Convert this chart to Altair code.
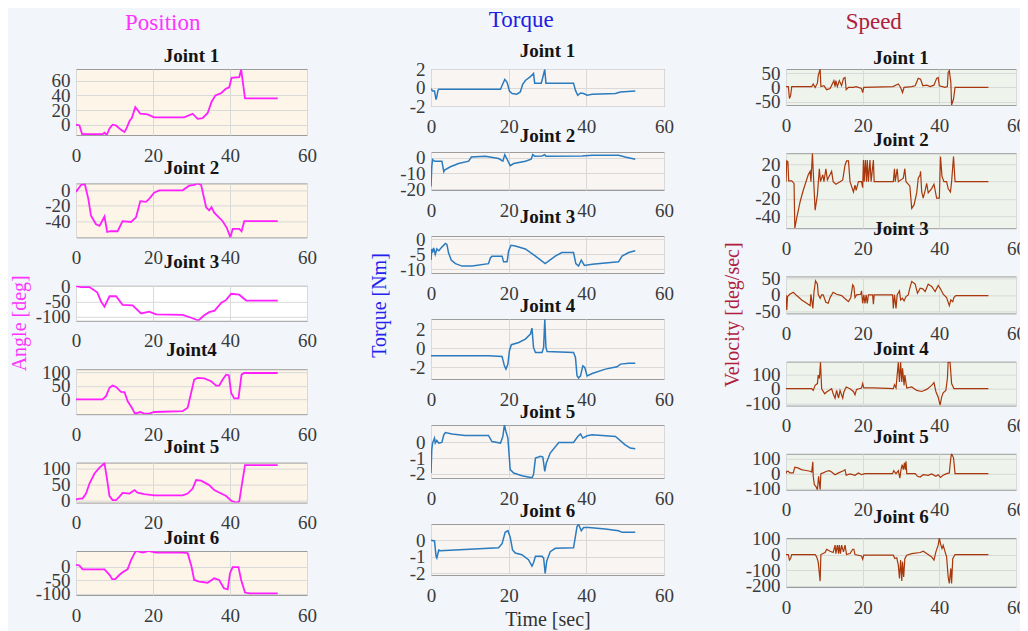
import altair as alt
import pandas as pd

FONT = "Liberation Serif"
X_TICKS = [0, 20, 40, 60]

# ---------------- Position [deg] ----------------
POS1_T = [0,0.9,1.6,6.9,7.4,8,8.7,9.5,10.4,11.7,12.6,13.2,13.9,14.5,15.4,16,16.7,18.6,20.3,28.1,30.3,31.6,32.9,34.2,35.2,36.2,37.7,38.9,39.8,40.4,42.4,42.9,43.9,52.4]
POS1_V = [0,-1,-13,-13,-11,-14,-5,0,-1,-7,-10,-4,5,9,24,20,15,14,10,10,15,8,9,16,31,40,43,49,51,64,65,75,36,36]
POS2_T = [0,1.3,2.3,3.2,3.9,5.2,6.1,7.4,8.1,8.9,10.8,12.1,14.3,15.6,16.7,18.2,19,20.3,21.6,27.7,29.4,30.7,31.6,32.5,33.8,34.6,35.2,35.9,38.1,39.2,40.1,40.7,42.4,43,43.7,52.4]
POS2_V = [-2,7,8,-11,-33,-44,-46,-34,-54,-53,-53,-40,-41,-35,-14,-15,-11,-3,0,0,6,7,9,7,-22,-26,-22,-29,-40,-49,-61,-50,-50,-53,-40,-40]
POS3_T = [0,1.3,3.5,5.5,6.5,7.4,8.7,10.4,12.1,14.7,16.9,19,20.8,27.7,29.9,31.8,33.3,34.6,36,37.7,39,40.3,42.4,44.2,52.4]
POS3_V = [0,-3,-3,-20,-50,-67,-33,-33,-61,-63,-89,-83,-92,-94,-103,-112,-95,-85,-80,-55,-45,-25,-28,-47,-47]
POS4_T = [0,6.9,7.8,8.7,9.5,10.4,11.7,12.6,13.4,14.5,15.3,16.7,17.7,19,20.3,27.7,29,29.9,30.7,31.6,33.3,35.1,36.4,37.2,38.1,39,39.7,40.3,41.1,42.2,43,43.7,52.4]
POS4_V = [0,0,12,43,51,46,28,27,-6,-30,-52,-46,-52,-52,-46,-43,-30,24,73,79,77,67,51,51,73,91,89,24,4,4,91,97,97]
POS5_T = [0,0.9,1.7,2.6,3.5,4.8,6.1,7.4,8.1,8.7,9.5,10.4,11.3,12.1,13.9,15.2,16,17.7,20.3,27.7,29,30.3,31.2,32.5,34.6,35.9,37.7,39,40.3,41.6,42.4,43,43.9,52.4]
POS5_V = [2,5,5,21,53,85,104,118,64,13,0,0,11,23,21,32,24,19,15,15,21,37,64,62,48,32,21,13,-2,-8,-5,43,112,112]
POS6_T = [0,0.9,1.7,7.4,8.7,9.4,10.2,11.3,12.4,13.4,14.3,15.2,15.6,17.3,19,20.8,27.7,29,30,30.7,32,34.2,35.9,37.2,38.4,39.4,40,40.7,42.2,42.9,43.9,45,52.4]
POS6_V = [6,4,-10,-10,-30,-46,-46,-30,-18,-10,24,49,57,51,57,51,51,49,0,-49,-55,-59,-43,-49,-79,-83,-24,-2,-2,-49,-95,-98,-98]

# ---------------- Torque [Nm] ----------------
TOR1_T = [0,0.4,0.9,1.3,1.5,1.8,2,17.9,18.3,19,19.6,20.2,20.9,22.1,23,23.6,24.3,25.6,26.4,26.7,28.4,28.8,29.3,29.6,36.7,37.2,37.8,38.5,39.3,40.2,41.5,47.5,48.8,52.6]
TOR1_V = [-0.1,-0.36,-0.36,-1.29,-1,-0.29,-0.18,-0.18,0.25,0.9,0.6,-0.36,-0.64,-0.71,-0.46,0.36,0.79,1.21,1.57,0.5,0.5,1.14,2.0,0.5,0.5,-0.29,-0.82,-0.57,-0.64,-0.82,-0.71,-0.64,-0.46,-0.36]
TOR2_T = [0,0.2,0.4,0.9,2.8,3.3,3.5,5,7.1,9.7,10.4,14,17.4,18.5,19,19.6,20.4,21.3,24.3,25.8,26.2,26.7,28.6,29.3,29.6,38.9,41.5,48.3,50,52.6]
TOR2_V = [-18.3,-5.7,-1,-2.1,-2.1,-8.8,-7.8,-5.7,-3.6,-2.1,0.6,1.05,-0.4,-2.1,2.1,-0.84,-5,-3.6,-2.1,-0.84,2.1,1.05,1.3,2.1,1.05,1.3,1.7,1.7,0.63,-0.84]
TOR3_T = [0,0.2,0.4,0.7,1.1,1.5,2,2.8,3.7,4.1,4.5,5.2,6.3,8,10.6,14.8,15.3,15.7,18.3,18.7,19.6,20,20.6,21.7,24.3,26.9,29.4,32,33.7,36.7,37.3,38,38.7,39.5,41.5,48.3,49.2,50.9,52.6]
TOR3_V = [-7,-3.3,-4.5,-3,-5.1,-3.3,-3.9,-2.7,-1.5,-1.8,-4.5,-7,-8.2,-9,-9,-8.2,-6.3,-5.7,-5.7,-7.6,-7.6,-3.9,-2.1,-2.3,-3.3,-5.7,-8.2,-5.7,-4.5,-4.5,-8.2,-9,-7,-8.8,-8.4,-7.6,-5.7,-4.5,-3.9]
TOR4_T = [0,14.8,18.3,18.9,19.3,19.8,20.2,20.7,22.6,24.3,25.6,26,26.4,26.9,28.6,29,29.3,29.6,29.9,36.7,37.2,37.6,38,38.5,39.1,39.6,40.2,41.5,44.9,47.9,48.8,50.9,52.6]
TOR4_V = [-0.78,-0.78,-0.85,-1.83,-2.17,-1.65,-0.26,0.37,0.6,0.96,1.48,2.1,0.09,-0.43,-0.43,0.09,3.0,0.09,-0.33,-0.43,-0.96,-2.87,-3.1,-2.87,-1.83,-2,-2.87,-2.63,-2.17,-1.93,-1.65,-1.55,-1.55]
TOR5_T = [0,0.2,0.4,0.9,1.1,1.5,2,2.8,3.3,3.7,5.4,8.8,14.8,15.7,17.9,18.5,18.9,19.3,19.8,20.4,21.3,23.4,26,26.4,26.9,28.2,28.8,29.3,29.7,30.7,32.9,36.7,37.8,38.5,39.1,40.2,41.5,47.5,50,51.3,52.6]
TOR5_V = [-1.96,-0.47,-0.04,0.28,-0.04,0.13,-0.04,0,0.49,0.64,0.55,0.45,0.45,0.06,-0.04,0.38,1.12,0.7,0.28,-1.74,-1.96,-2.13,-2.27,-2.06,-1,-0.89,-0.94,-1.85,-1.32,-0.68,0,0,0.38,0.55,0.28,0.43,0.49,0.38,-0.15,-0.36,-0.4]
TOR6_T = [0,0.9,1.3,1.5,2,2.4,17.4,18.3,19.1,19.8,20.4,21,21.7,23.4,25.1,26,26.4,26.9,28.6,29,29.4,29.8,30.7,32,36.7,37.1,37.6,38,38.7,39.3,40.6,44.9,48.3,49.2,52.6]
TOR6_V = [0,-0.04,-0.98,-1.08,-0.59,-0.63,-0.45,-0.2,0.49,0.59,0.2,-0.59,-0.78,-0.88,-1.18,-1.57,-1.37,-0.98,-0.98,-1.08,-2.02,-1.27,-0.69,-0.49,-0.45,0.1,0.84,0.98,0.59,0.78,0.78,0.69,0.59,0.49,0.49]

# ---------------- Speed [deg/sec] ----------------
SPD1_T = [0,0.6,0.9,1.2,1.5,6.7,7.1,7.6,8.2,8.4,8.9,9.1,9.9,10.6,11.5,12.5,12.8,13,13.4,13.9,14.5,15,15.4,15.7,16.3,17.6,18.3,19.7,20,20.3,27.9,29.3,29.9,30.4,30.8,32.8,33.7,34.5,35.1,35.7,36.7,37.6,38.6,39.3,39.7,40,41.5,42.1,42.3,42.6,43,43.2,43.7,44.1,52.8]
SPD1_V = [3,3,-39,-29,3,3,12,0,15,41,65,3,6,-8,-4,24,3,24,3,24,6,32,35,-8,0,0,3,-4,-18,0,3,12,0,-18,0,3,6,32,29,6,8,3,8,32,35,6,0,3,53,59,18,-62,-41,0,0]
SPD2_T = [0,0.2,0.5,0.7,1.5,2.1,2.3,2.8,3.7,4.5,5.8,6.3,6.5,6.9,7.1,7.6,8.2,8.7,9,9.6,9.9,10.4,10.8,11.9,12.3,13,14.1,14.8,15.4,15.8,16.3,16.7,17.6,18,18.3,18.9,19.7,20,20.2,20.4,20.7,21,21.2,21.5,21.9,22.2,22.8,23,28,28.3,28.5,29,29.3,30.6,31,31.3,32.3,32.8,33.4,34.1,34.5,35,35.1,35.4,35.8,36.3,36.7,37.1,38,38.6,39.3,40,40.3,40.7,41.2,41.9,42.3,42.9,43.2,43.7,44.1,52.8]
SPD2_V = [0,24,23,1,1,-2,-54,-42,-23,-10,8,12,0,33,12,-33,-15,15,0,8,0,15,2,12,0,-3,0,2,19,24,24,0,-12,-4,-10,0,0,-7,25,0,25,0,25,0,25,0,25,0,0,15,0,15,0,4,15,0,-5,-31,-27,-13,4,8,12,-12,-19,-10,-2,-13,-8,-3,-19,-19,29,6,0,0,-8,-12,0,29,0,0]
SPD3_T = [0,0.2,0.4,1,1.9,2.8,4.1,5.4,6.3,6.5,7,7.3,7.7,8.2,8.4,8.9,9.3,9.7,10.4,11,11.5,12.3,13.2,14.5,15.8,16.3,16.9,17.4,17.7,18,18.4,19.5,19.7,20,20.3,20.6,20.9,21.2,21.5,22.6,22.8,23,27.8,28,28.3,28.7,29,29.6,29.9,30.4,30.8,31.3,31.9,32.3,32.8,33.7,34.3,35,35.7,36.3,37.1,38,38.9,39.7,40.3,41,41.9,42.6,43,43.5,43.8,44.3,52.8]
SPD3_V = [0,-45,-5,2,8,-2,-15,-25,-32,2,-40,8,42,32,2,-10,0,0,-22,-25,-8,8,2,-2,-15,-20,-8,30,25,-8,0,2,12,-25,0,-25,0,-25,0,0,-28,0,0,-40,0,-40,0,12,-15,-10,-18,-5,0,20,40,32,5,20,18,10,32,25,10,28,18,2,-8,-32,-15,-20,-8,-2,-2]
SPD4_T = [0,6.7,7.1,7.6,8.2,8.4,8.7,9,9.3,10.1,10.6,11.9,12.3,12.8,13.2,13.7,14.1,14.8,15.1,15.7,16.7,17.6,18,18.4,19.7,20,20.3,22.8,28,28.3,28.7,29.3,29.6,29.9,30.2,30.4,30.8,31,31.5,32.8,34.1,35.4,36.7,38,38.6,39.1,39.7,40.2,40.6,41,41.7,42.1,42.3,42.8,43.2,43.8,52.8]
SPD4_V = [0,0,-12,23,35,93,70,181,0,-35,-23,0,-35,-65,-12,-65,-12,-65,-23,12,0,-19,-42,-5,5,35,5,5,0,28,5,181,47,181,47,140,23,93,5,12,-12,-19,-5,23,42,-19,-58,-112,-58,-28,-12,70,181,181,35,0,0]
SPD5_T = [0,0.2,0.6,1,1.9,2.3,3.1,4,4.9,6.3,6.7,7,7.1,7.4,7.8,8.2,8.5,8.9,9.1,9.7,10.6,11.3,11.9,12.8,13.7,15,15.4,15.7,16.7,18,18.9,19.7,20.6,27.8,28.1,28.7,29.3,29.7,30,30.3,30.6,30.9,31.1,31.3,31.5,33.7,34.3,35,35.8,37.1,38,39.1,39.7,40.3,41,41.9,42.6,43,43.2,43.7,44.1,52.8]
SPD5_V = [0,16,16,5,5,43,39,27,23,16,11,80,-18,-75,-86,-109,-18,-109,0,5,16,20,11,-7,5,20,27,-11,-2,-11,5,-7,0,0,20,0,20,-30,27,61,27,73,27,84,0,0,-18,-23,-7,-11,-2,-18,-7,-25,-11,0,5,107,134,107,0,0]
SPD6_T = [0,0.6,0.9,1.2,1.5,7.6,8,8.4,8.9,9.1,10.2,10.6,11.5,12.3,12.8,13,13.4,13.7,13.9,14.2,14.5,15,15.4,15.8,16.7,17.4,17.7,18,19.7,20,20.3,22.8,28,28.4,28.9,29.3,29.6,29.9,30.2,30.4,30.7,31,31.5,32.8,35,35.8,36.7,38,38.6,39.1,39.7,40,40.3,40.7,41,41.5,41.9,42.3,42.6,43,43.2,43.5,44.1,52.8]
SPD6_V = [0,0,-36,-26,0,0,-15,-47,-170,0,13,34,21,13,60,6,60,6,60,6,60,17,60,0,6,34,34,0,-9,-30,-4,-4,-4,-26,-21,-68,-153,-36,-170,-47,-143,-26,-4,6,13,21,6,-15,-36,17,60,106,70,38,60,17,-15,-143,-185,-89,-185,-26,0,0]

POS_COLOR = "#ff1fff"
TOR_COLOR = "#2b7bbf"
SPD_COLOR = "#a8380c"
LABEL_EXPR = "datum.value + ''"


def make_panel(t, v, name, domain, ticks, w, h, color, fill, stroke_w=1.6,
               ytitle=None, xtitle=None, title_offset=3):
    assert len(t) == len(v), name
    df = pd.DataFrame({"t": t, "v": v})
    xaxis_kw = dict(values=X_TICKS, labelFlush=False, labelPadding=11, labelExpr=LABEL_EXPR,
                    grid=True, ticks=False, domain=False, labelOverlap=False)
    if xtitle:
        xaxis_kw.update(title=xtitle, titlePadding=4, titleColor="#333333",
                        titleFontSize=20, titleFontWeight="normal", titleFont=FONT)
    yaxis_kw = dict(values=ticks, labelPadding=6, grid=True, ticks=False, labelExpr=LABEL_EXPR,
                    domain=False, labelOverlap=False)
    if ytitle:
        yaxis_kw.update(title=ytitle["text"], titleX=ytitle["x"], titleY=ytitle["y"],
                        titleColor=ytitle["color"], titleAngle=270, titleAlign="center",
                        titleBaseline="middle", titleFontSize=20,
                        titleFontWeight="normal", titleFont=FONT)
    x_enc = alt.X("t:Q", scale=alt.Scale(domain=[0, 60], nice=False),
                  axis=alt.Axis(**xaxis_kw))
    if not xtitle:
        x_enc = x_enc.title(None)
    y_enc = alt.Y("v:Q", scale=alt.Scale(domain=domain, nice=False, zero=False),
                  axis=alt.Axis(**yaxis_kw))
    if not ytitle:
        y_enc = y_enc.title(None)
    return (
        alt.Chart(df)
        .mark_line(color=color, strokeWidth=stroke_w, clip=True)
        .encode(x=x_enc, y=y_enc)
        .properties(
            width=w, height=h,
            title=alt.TitleParams(name, offset=title_offset),
            view=alt.ViewBackground(fill=fill, stroke="#9c9c9c", strokeWidth=1),
        )
    )


POS_FILL = "#fcf5e8"
TOR_FILL = "#f9f5f3"
SPD_FILL = "#eef3ec"

pos_panels = [
    make_panel(POS1_T, POS1_V, "Joint 1", [-14, 76], [0, 20, 40, 60], 231, 66, POS_COLOR, POS_FILL, 1.8),
    make_panel(POS2_T, POS2_V, "Joint 2", [-61, 9], [-40, -20, 0], 231, 54, POS_COLOR, POS_FILL, 1.8),
    make_panel(POS3_T, POS3_V, "Joint 3", [-113, 1], [-100, -50, 0], 231, 35, POS_COLOR, "#ffffff", 1.8,
               ytitle={"text": "Angle [deg]", "x": -57, "y": 37, "color": "#ff33ff"}),
    make_panel(POS4_T, POS4_V, "Joint4", [-54, 111], [0, 50, 100], 231, 45, POS_COLOR, POS_FILL, 1.8),
    make_panel(POS5_T, POS5_V, "Joint 5", [-8, 120], [0, 50, 100], 231, 40, POS_COLOR, POS_FILL, 1.8),
    make_panel(POS6_T, POS6_V, "Joint 6", [-104, 57], [-100, -50, 0], 231, 44, POS_COLOR, POS_FILL, 1.8),
]

tor_panels = [
    make_panel(TOR1_T, TOR1_V, "Joint 1", [-2, 2.05], [-2, 0, 2], 233, 37, TOR_COLOR, TOR_FILL, 1.5,
               title_offset=-1),
    make_panel(TOR2_T, TOR2_V, "Joint 2", [-20.6, 3.8], [-20, -10, 0], 233, 38, TOR_COLOR, TOR_FILL, 1.5),
    make_panel(TOR3_T, TOR3_V, "Joint 3", [-11.3, 1], [-10, -5, 0], 233, 37, TOR_COLOR, TOR_FILL, 1.5,
               ytitle={"text": "Torque [Nm]", "x": -52, "y": 69, "color": "#2222ee"}),
    make_panel(TOR4_T, TOR4_V, "Joint 4", [-3.2, 3.05], [-2, 0, 2], 233, 60, TOR_COLOR, TOR_FILL, 1.5),
    make_panel(TOR5_T, TOR5_V, "Joint 5", [-2.28, 1.12], [-2, -1, 0], 233, 53, TOR_COLOR, TOR_FILL, 1.5),
    make_panel(TOR6_T, TOR6_V, "Joint 6", [-2.12, 1.0], [-2, -1, 0], 233, 51, TOR_COLOR, TOR_FILL, 1.5,
               xtitle="Time [sec]"),
]

spd_panels = [
    make_panel(SPD1_T, SPD1_V, "Joint 1", [-62, 65], [-50, 0, 50], 230, 36, SPD_COLOR, SPD_FILL, 1.2,
               title_offset=-4),
    make_panel(SPD2_T, SPD2_V, "Joint 2", [-54, 33], [-40, -20, 0, 20], 230, 75, SPD_COLOR, SPD_FILL, 1.2),
    make_panel(SPD3_T, SPD3_V, "Joint 3", [-55, 55], [-50, 0, 50], 230, 37, SPD_COLOR, SPD_FILL, 1.2,
               ytitle={"text": "Velocity [deg/sec]", "x": -54, "y": 38, "color": "#b0203c"}),
    make_panel(SPD4_T, SPD4_V, "Joint 4", [-116, 186], [-100, 0, 100], 230, 44, SPD_COLOR, SPD_FILL, 1.2),
    make_panel(SPD5_T, SPD5_V, "Joint 5", [-109, 134], [-100, 0, 100], 230, 36, SPD_COLOR, SPD_FILL, 1.2),
    make_panel(SPD6_T, SPD6_V, "Joint 6", [-208, 106], [-200, -100, 0, 100], 230, 49, SPD_COLOR, SPD_FILL, 1.2),
]


def col_title(text, color, offset):
    return alt.TitleParams(text, color=color, fontSize=23, fontWeight="normal",
                           font=FONT, anchor="middle", offset=offset)


col1 = alt.vconcat(*pos_panels, spacing=48.4, bounds="flush", title=col_title("Position", "#ff33ff", 12))
col2 = alt.vconcat(*tor_panels, spacing=46, bounds="flush", title=col_title("Torque", "#2020e0", 10))
col3 = alt.vconcat(*spd_panels, spacing=48.2, bounds="flush", title=col_title("Speed", "#b0203c", 15))

chart = (
    alt.hconcat(col1, col2, col3, spacing=355, bounds="flush")
    .properties(background="#f2f6fa", padding={"left": 0, "top": 0, "right": -6, "bottom": 4})
    .configure_axis(labelFont=FONT, labelFontSize=19, labelColor="#3a3a3a",
                    gridColor="#d9d9d9", gridWidth=1)
    .configure_title(font=FONT, fontSize=19, fontWeight="bold", color="#141414", anchor="middle")
    .configure_view(stroke="#9c9c9c")
)

chart.save("out.html", embed_options={"renderer": "svg", "actions": False})
